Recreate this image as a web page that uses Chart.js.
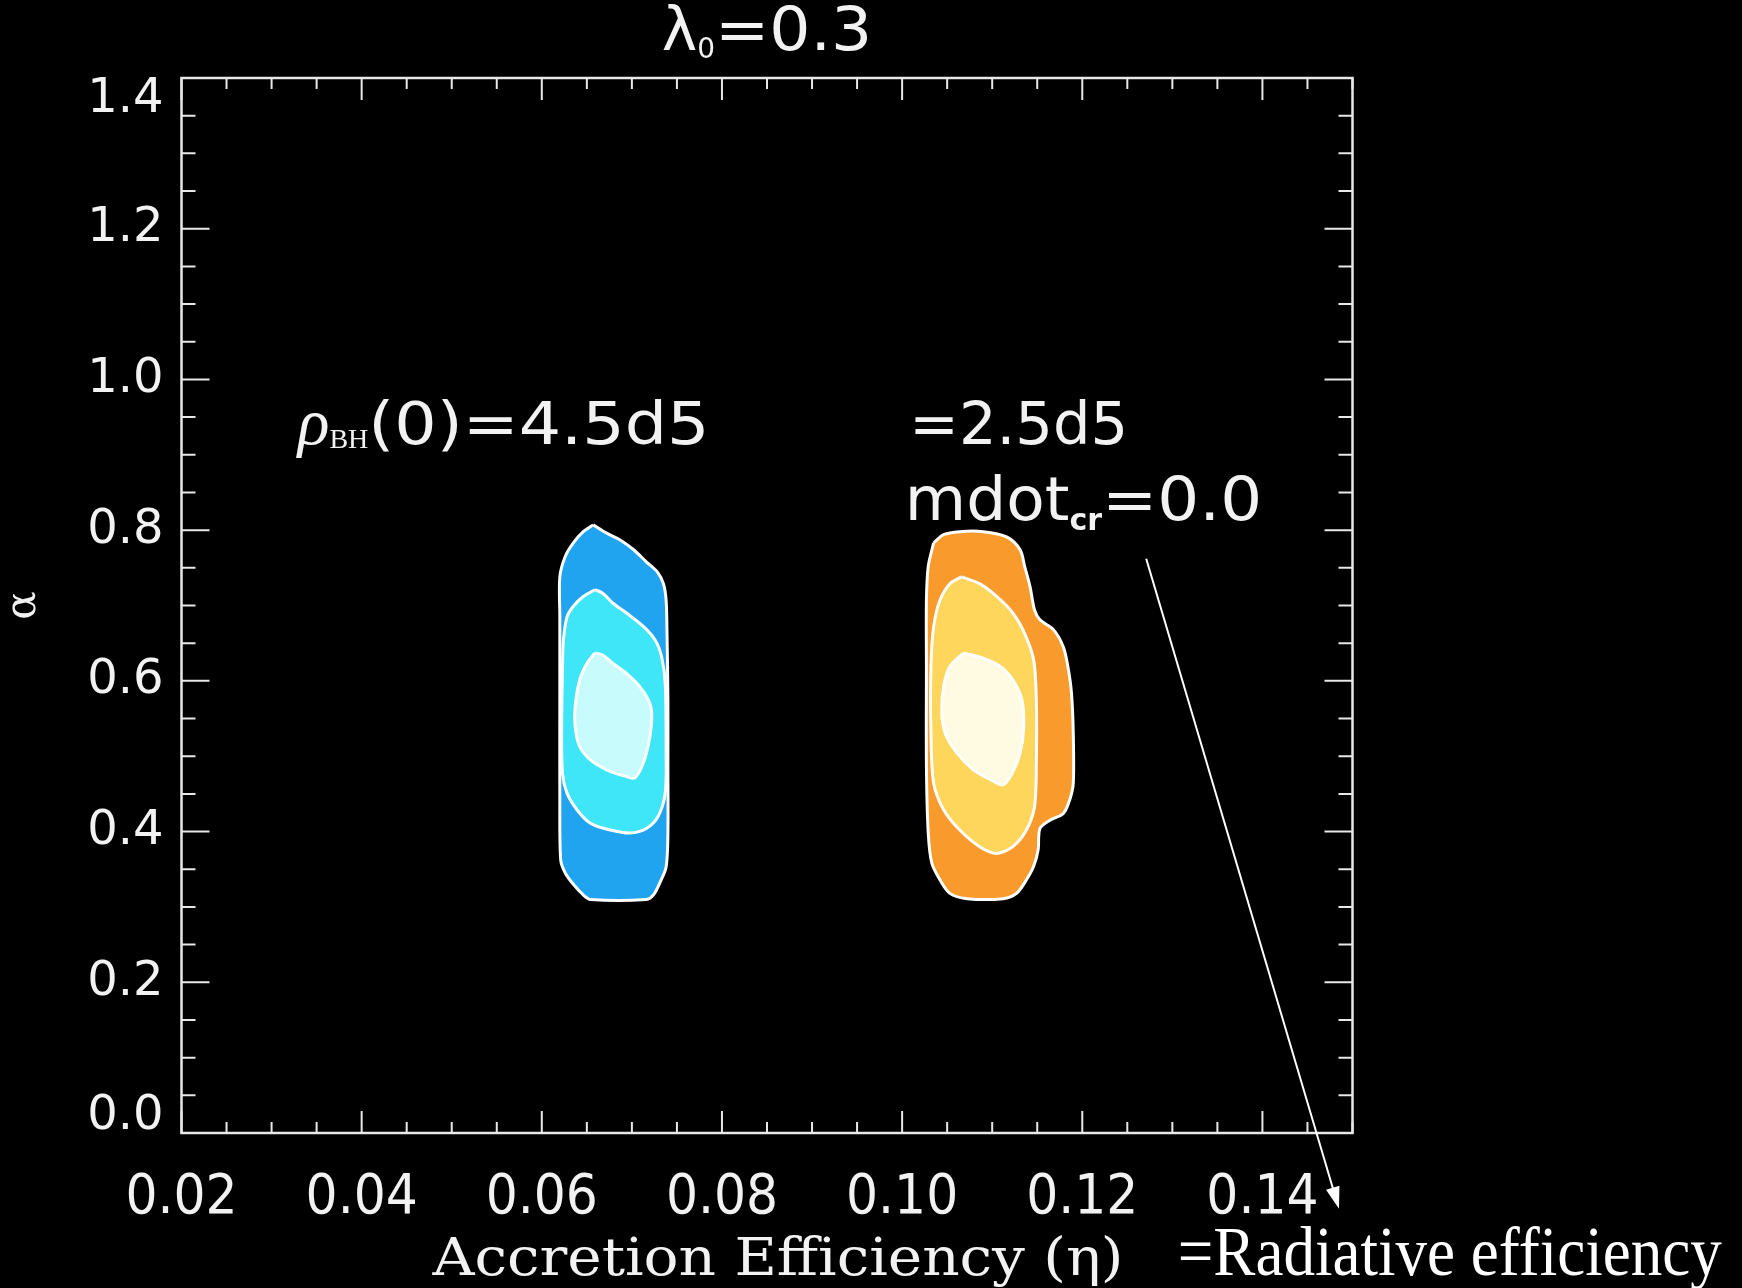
<!DOCTYPE html>
<html>
<head>
<meta charset="utf-8">
<title>Accretion Efficiency contours</title>
<script src="https://cdn.jsdelivr.net/npm/chart.js@4.4.1/dist/chart.umd.min.js"></script>
<style>
  html, body { margin: 0; padding: 0; background: #000; }
  #wrap { width: 1742px; height: 1288px; position: relative; }
</style>
</head>
<body>
<div id="wrap"><canvas id="contours"></canvas></div>
<script>
// ---- axes ----
const xRange = [0.02, 0.15];
const yRange = [0.0, 1.4];
const xTickValues = [0.02, 0.04, 0.06, 0.08, 0.10, 0.12, 0.14];
const xTickLabels = ['0.02', '0.04', '0.06', '0.08', '0.10', '0.12', '0.14'];
const yTickValues = [0.0, 0.2, 0.4, 0.6, 0.8, 1.0, 1.2, 1.4];
const yTickLabels = ['0.0', '0.2', '0.4', '0.6', '0.8', '1.0', '1.2', '1.4'];
const xMinorStep = 0.005;
const yMinorStep = 0.05;

// ---- contour levels, [eta, alpha] ----
// rho_BH(0)=4.5d5 (blue)
const blueOuter = [[0.0657,0.807],[0.0672,0.796],[0.0687,0.787],[0.0702,0.774],[0.0716,0.758],[0.0728,0.745],
  [0.0735,0.729],[0.0738,0.707],[0.0739,0.663],[0.0740,0.575],[0.0740,0.486],[0.0740,0.398],[0.0738,0.353],
  [0.0731,0.332],[0.0724,0.316],[0.0716,0.310],[0.0654,0.310],[0.0646,0.316],[0.0635,0.330],[0.0626,0.345],
  [0.0621,0.362],[0.0620,0.442],[0.0620,0.575],[0.0620,0.685],[0.0620,0.738],[0.0626,0.765],[0.0635,0.783],
  [0.0646,0.798]];
const blueMiddle = [[0.0659,0.721],[0.0646,0.712],[0.0635,0.699],[0.0628,0.685],[0.0624,0.654],[0.0623,0.619],
  [0.0622,0.530],[0.0623,0.477],[0.0628,0.451],[0.0639,0.429],[0.0654,0.411],[0.0676,0.402],[0.0698,0.398],
  [0.0716,0.404],[0.0729,0.420],[0.0737,0.451],[0.0738,0.508],[0.0737,0.597],[0.0733,0.632],[0.0726,0.654],
  [0.0713,0.672],[0.0694,0.690],[0.0679,0.703],[0.0668,0.716]];
const blueInner = [[0.0659,0.637],[0.0650,0.623],[0.0642,0.601],[0.0637,0.566],[0.0637,0.539],[0.0642,0.513],
  [0.0654,0.495],[0.0672,0.482],[0.0694,0.473],[0.0703,0.471],[0.0711,0.486],[0.0718,0.513],[0.0722,0.548],
  [0.0720,0.570],[0.0709,0.592],[0.0694,0.610],[0.0679,0.623],[0.0668,0.634]];
// rho_BH(0)=2.5d5, mdot_cr=0.0 (orange)
const orangeOuter = [[0.1035,0.783],[0.1046,0.794],[0.1064,0.798],[0.1090,0.798],[0.1116,0.791],[0.1131,0.774],
  [0.1136,0.752],[0.1142,0.725],[0.1147,0.694],[0.1153,0.681],[0.1168,0.668],[0.1179,0.645],[0.1184,0.619],
  [0.1188,0.584],[0.1190,0.530],[0.1190,0.464],[0.1186,0.442],[0.1179,0.424],[0.1164,0.415],[0.1153,0.404],
  [0.1151,0.376],[0.1146,0.354],[0.1138,0.336],[0.1127,0.318],[0.1112,0.311],[0.1072,0.311],[0.1053,0.318],
  [0.1042,0.336],[0.1033,0.358],[0.1029,0.398],[0.1027,0.486],[0.1027,0.619],[0.1027,0.707],[0.1029,0.752]];
const orangeMiddle = [[0.1066,0.738],[0.1053,0.729],[0.1042,0.707],[0.1035,0.672],[0.1032,0.619],[0.1032,0.530],
  [0.1035,0.464],[0.1046,0.429],[0.1064,0.402],[0.1086,0.380],[0.1105,0.371],[0.1123,0.380],[0.1138,0.402],
  [0.1147,0.433],[0.1149,0.486],[0.1149,0.575],[0.1146,0.628],[0.1136,0.663],[0.1123,0.690],[0.1105,0.712],
  [0.1086,0.729]];
const orangeInner = [[0.1068,0.637],[0.1053,0.619],[0.1046,0.592],[0.1044,0.557],[0.1048,0.530],[0.1061,0.504],
  [0.1079,0.482],[0.1098,0.469],[0.1112,0.462],[0.1122,0.477],[0.1131,0.504],[0.1135,0.539],[0.1133,0.575],
  [0.1123,0.601],[0.1109,0.619],[0.1090,0.630]];

// ---- annotations, placed in data coordinates ----
const rhoLabelAt = [0.0329, 0.914];
const rho2LabelAt = [0.1008, 0.914];
const mdotLabelAt = [0.1003, 0.813];
const arrowFrom = [0.1271, 0.762];
const arrowTo = [0.1485, -0.1006];
const radiativeAt = [0.1306, -0.1885];

function closedLoop(pts) {
  const out = pts.map(p => ({ x: p[0], y: p[1] }));
  out.push({ x: pts[0][0], y: pts[0][1] });
  return out;
}

function contour(pts, color, order) {
  return {
    data: closedLoop(pts),
    borderColor: '#ffffff',
    borderWidth: 3,
    backgroundColor: color,
    fill: 'shape',
    tension: 0.3,
    pointRadius: 0,
    order: order
  };
}

// draw a row of text pieces with different fonts (sx = horizontal stretch)
function drawRuns(ctx, runs, x, y, align) {
  let w = 0;
  runs.forEach(r => {
    ctx.font = r.font;
    r.w = ctx.measureText(r.t).width * (r.sx || 1);
    w += r.w;
  });
  let cx = align === 'center' ? x - w / 2 : x;
  ctx.textAlign = 'left';
  ctx.textBaseline = 'alphabetic';
  runs.forEach(r => {
    ctx.save();
    ctx.font = r.font;
    ctx.translate(cx, y + (r.dy || 0));
    ctx.scale(r.sx || 1, 1);
    ctx.fillText(r.t, 0, 0);
    ctx.restore();
    cx += r.w;
  });
}

function fitText(ctx, text, x, y, width, font, align) {
  ctx.font = font;
  const m = ctx.measureText(text).width;
  ctx.save();
  ctx.translate(align === 'center' ? x - width / 2 : x, y);
  ctx.scale(width / m, 1);
  ctx.textAlign = 'left';
  ctx.textBaseline = 'alphabetic';
  ctx.fillText(text, 0, 0);
  ctx.restore();
}

const idlFrame = {
  id: 'idlFrame',
  afterDraw(chart) {
    const { ctx, chartArea: a, scales: { x, y } } = chart;
    const px = v => x.getPixelForValue(v);
    const py = v => y.getPixelForValue(v);
    ctx.save();

    // box + inward ticks on all four sides
    ctx.strokeStyle = '#e8e8e8';
    ctx.lineWidth = 2.5;
    ctx.strokeRect(a.left, a.top, a.right - a.left, a.bottom - a.top);
    ctx.lineWidth = 2;
    ctx.beginPath();
    const nx = Math.round((xRange[1] - xRange[0]) / xMinorStep);
    for (let i = 0; i <= nx; i++) {
      const p = px(xRange[0] + i * xMinorStep);
      const len = i % 4 === 0 ? 22 : 11;
      ctx.moveTo(p, a.bottom); ctx.lineTo(p, a.bottom - len);
      ctx.moveTo(p, a.top); ctx.lineTo(p, a.top + len);
    }
    const ny = Math.round((yRange[1] - yRange[0]) / yMinorStep);
    for (let i = 0; i <= ny; i++) {
      const p = py(yRange[0] + i * yMinorStep);
      const len = i % 4 === 0 ? 28 : 14;
      ctx.moveTo(a.left, p); ctx.lineTo(a.left + len, p);
      ctx.moveTo(a.right, p); ctx.lineTo(a.right - len, p);
    }
    ctx.stroke();

    ctx.fillStyle = '#f2f2f2';
    // tick labels
    ctx.font = '56px "DejaVu Sans Condensed", "DejaVu Sans"';
    ctx.textAlign = 'center';
    ctx.textBaseline = 'alphabetic';
    xTickValues.forEach((v, i) => ctx.fillText(xTickLabels[i], px(v), a.bottom + 80));
    ctx.font = '48px "DejaVu Sans"';
    ctx.textAlign = 'right';
    ctx.textBaseline = 'middle';
    yTickValues.forEach((v, i) => {
      const p = Math.min(Math.max(py(v), a.top + 22), a.bottom - 16);
      ctx.fillText(yTickLabels[i], a.left - 18, p);
    });

    // title
    drawRuns(ctx, [
      { t: 'λ', font: '60px "DejaVu Sans"' },
      { t: '0', font: '28px "DejaVu Sans"', dy: 8 },
      { t: '=0.3', font: '60px "DejaVu Sans"', sx: 1.08 }
    ], (a.left + a.right) / 2, a.top - 28, 'center');

    // axis titles
    fitText(ctx, 'Accretion Efficiency (η)', (a.left + a.right) / 2 + 11, a.bottom + 142, 691,
      '52px "DejaVu Serif Condensed", "DejaVu Serif"', 'center');
    ctx.save();
    ctx.translate(a.left - 157, (a.top + a.bottom) / 2);
    ctx.rotate(-Math.PI / 2);
    ctx.font = '42px "DejaVu Serif"';
    ctx.textAlign = 'center';
    ctx.textBaseline = 'middle';
    ctx.fillText('α', 0, 0);
    ctx.restore();

    // labels inside the plot
    drawRuns(ctx, [
      { t: 'ρ', font: 'italic 66px "Liberation Serif"' },
      { t: 'BH', font: '28px "Liberation Serif"', dy: 4 },
      { t: '(0)=4.5d5', font: '58px "DejaVu Sans"', sx: 1.15 }
    ], px(rhoLabelAt[0]), py(rhoLabelAt[1]), 'left');
    drawRuns(ctx, [{ t: '=2.5d5', font: '58px "DejaVu Sans"', sx: 1.02 }],
      px(rho2LabelAt[0]), py(rho2LabelAt[1]), 'left');
    drawRuns(ctx, [
      { t: 'mdot', font: '60px "DejaVu Sans"', sx: 1.05 },
      { t: 'cr', font: 'bold 30px "DejaVu Sans"', dy: 10 },
      { t: '=0.0', font: '60px "DejaVu Sans"', sx: 1.1 }
    ], px(mdotLabelAt[0]), py(mdotLabelAt[1]), 'left');

    // arrow to the added note
    const x0 = px(arrowFrom[0]), y0 = py(arrowFrom[1]);
    const x1 = px(arrowTo[0]), y1 = py(arrowTo[1]);
    const ang = Math.atan2(y1 - y0, x1 - x0);
    ctx.strokeStyle = '#ffffff';
    ctx.lineWidth = 2;
    ctx.beginPath();
    ctx.moveTo(x0, y0);
    ctx.lineTo(x1 - 16 * Math.cos(ang), y1 - 16 * Math.sin(ang));
    ctx.stroke();
    ctx.fillStyle = '#ffffff';
    ctx.beginPath();
    ctx.moveTo(x1, y1);
    ctx.lineTo(x1 - 22 * Math.cos(ang) + 7 * Math.sin(ang), y1 - 22 * Math.sin(ang) - 7 * Math.cos(ang));
    ctx.lineTo(x1 - 22 * Math.cos(ang) - 7 * Math.sin(ang), y1 - 22 * Math.sin(ang) + 7 * Math.cos(ang));
    ctx.closePath();
    ctx.fill();

    fitText(ctx, '=Radiative efficiency', px(radiativeAt[0]), py(radiativeAt[1]), 544,
      '70px "Liberation Serif"', 'left');

    ctx.restore();
  }
};

new Chart(document.getElementById('contours'), {
  type: 'line',
  data: {
    datasets: [
      contour(blueInner, '#c8fbfb', 1),
      contour(blueMiddle, '#3ee6f8', 2),
      contour(blueOuter, '#20a4f0', 3),
      contour(orangeInner, '#fffbe2', 1),
      contour(orangeMiddle, '#ffd65c', 2),
      contour(orangeOuter, '#f99a2c', 3)
    ]
  },
  options: {
    responsive: true,
    maintainAspectRatio: false,
    animation: false,
    layout: { padding: { left: 181.5, right: 389.5, top: 78, bottom: 155 } },
    scales: {
      x: { type: 'linear', min: xRange[0], max: xRange[1], display: false },
      y: { type: 'linear', min: yRange[0], max: yRange[1], display: false }
    },
    plugins: {
      legend: { display: false },
      tooltip: { enabled: false }
    }
  },
  plugins: [idlFrame]
});
</script>
</body>
</html>
